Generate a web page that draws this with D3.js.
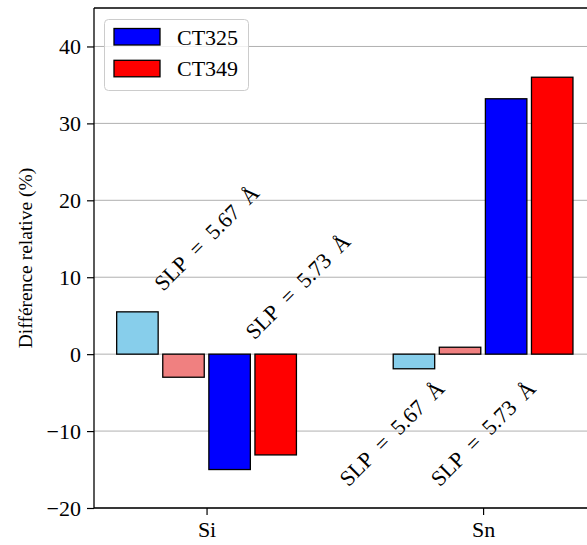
<!DOCTYPE html>
<html>
<head>
<meta charset="utf-8">
<script src="https://cdn.jsdelivr.net/npm/d3@7"></script>
<style>
  html, body { margin: 0; padding: 0; background: #fff; }
  svg text { font-family: "Liberation Serif", "Times New Roman", Times, serif !important; fill: #000; }
</style>
</head>
<body>
<svg id="chart" width="587" height="545"></svg>
<script>
// ---- data ----
const categories = ["Si", "Sn"];
const seriesNames = ["SLP 5.67 CT325", "SLP 5.67 CT349", "CT325", "CT349"];
const seriesColors = ["#87CEEB", "#F08080", "#0000FF", "#FF0000"];
const valuesSLP567_CT325 = [5.5, -1.9];
const valuesSLP567_CT349 = [-3.0, 0.9];
const valuesCT325 = [-15.0, 33.2];
const valuesCT349 = [-13.1, 36.0];
const yTicks = [-20, -10, 0, 10, 20, 30, 40];
const legendLabels = ["CT325", "CT349"];
const legendColors = ["#0000FF", "#FF0000"];
const annotationTexts = ["SLP\u2002=\u20025.67\u2002Å", "SLP\u2002=\u20025.73\u2002Å", "SLP\u2002=\u20025.67\u2002Å", "SLP\u2002=\u20025.73\u2002Å"];
const annotationX = [0, 0.33, 0.67, 1.0];
const annotationY = [15.1, 8.8, -10.3, -10.3];

const allSeries = [valuesSLP567_CT325, valuesSLP567_CT349, valuesCT325, valuesCT349];

// ---- layout ----
const svg = d3.select("#chart");
const mLeft = 94, mRight = 589, mTop = 8, mBottom = 508;

const x = d3.scaleLinear().domain([-0.407, 1.383]).range([mLeft, mRight]);
const y = d3.scaleLinear().domain([-20, 45]).range([mBottom, mTop]);

const step = 1 / 6, barW = 0.15;

// gridlines
svg.append("g").selectAll("line").data(yTicks).join("line")
  .attr("x1", mLeft).attr("x2", mRight)
  .attr("y1", d => y(d)).attr("y2", d => y(d))
  .attr("stroke", "#b0b0b0").attr("stroke-width", 1);

// bars
const bars = [];
allSeries.forEach((vals, i) => {
  vals.forEach((v, j) => bars.push({ s: i, c: j, v }));
});
svg.append("g").selectAll("rect").data(bars).join("rect")
  .attr("x", d => x(d.c + (d.s - 1.5) * step - barW / 2))
  .attr("width", d => x(barW) - x(0))
  .attr("y", d => y(Math.max(0, d.v)))
  .attr("height", d => Math.abs(y(d.v) - y(0)))
  .attr("fill", d => seriesColors[d.s])
  .attr("stroke", "#000").attr("stroke-width", 1.3);

// axes
const yAxis = d3.axisLeft(y).tickValues(yTicks).tickSize(7).tickPadding(6)
  .tickFormat(d => d < 0 ? "\u2212" + Math.abs(d) : String(d));
const gy = svg.append("g").attr("transform", `translate(${mLeft},0)`).call(yAxis);
gy.attr("font-family", null).attr("font-size", null);
gy.select(".domain").remove();
gy.selectAll(".tick line").attr("stroke", "#000").attr("stroke-width", 1.2);
gy.selectAll(".tick text").attr("font-size", 22);

const xAxis = d3.axisBottom(x).tickValues([0, 1]).tickSize(7).tickPadding(6)
  .tickFormat((d, i) => categories[i]);
const gx = svg.append("g").attr("transform", `translate(0,${mBottom})`).call(xAxis);
gx.attr("font-family", null).attr("font-size", null);
gx.select(".domain").remove();
gx.selectAll(".tick line").attr("stroke", "#000").attr("stroke-width", 1.2);
gx.selectAll(".tick text").attr("font-size", 22);

// spines
svg.append("line").attr("x1", mLeft).attr("x2", mLeft).attr("y1", mTop).attr("y2", mBottom)
  .attr("stroke", "#000").attr("stroke-width", 1.3);
svg.append("line").attr("x1", mLeft).attr("x2", mRight).attr("y1", mBottom).attr("y2", mBottom)
  .attr("stroke", "#000").attr("stroke-width", 1.3);
svg.append("line").attr("x1", mLeft).attr("x2", mRight).attr("y1", mTop).attr("y2", mTop)
  .attr("stroke", "#000").attr("stroke-width", 1.3);

// y label
svg.append("text")
  .attr("transform", `translate(32,${(mTop + mBottom) / 2}) rotate(-90)`)
  .attr("text-anchor", "middle")
  .attr("font-size", 19.5)
  .text("Différence relative (%)");

// annotations
annotationTexts.forEach((t, i) => {
  svg.append("text")
    .attr("transform", `translate(${x(annotationX[i])},${y(annotationY[i])}) rotate(-45)`)
    .attr("text-anchor", "middle")
    .attr("dominant-baseline", "central")
    .attr("font-size", 22)
    .attr("xml:space", "preserve")
    .text(t);
});

// legend
const lg = svg.append("g");
lg.append("rect").attr("x", 104.5).attr("y", 19.5).attr("width", 144).attr("height", 71)
  .attr("rx", 4).attr("fill", "#fff").attr("fill-opacity", 0.8)
  .attr("stroke", "#cccccc").attr("stroke-width", 1);
legendLabels.forEach((l, i) => {
  lg.append("rect").attr("x", 114).attr("y", 28.5 + i * 31.8).attr("width", 46).attr("height", 16.5)
    .attr("fill", legendColors[i]).attr("stroke", "#000").attr("stroke-width", 1.3);
  lg.append("text").attr("x", 177).attr("y", 44.5 + i * 31.8)
    .attr("font-size", 22).text(l);
});
</script>
</body>
</html>
